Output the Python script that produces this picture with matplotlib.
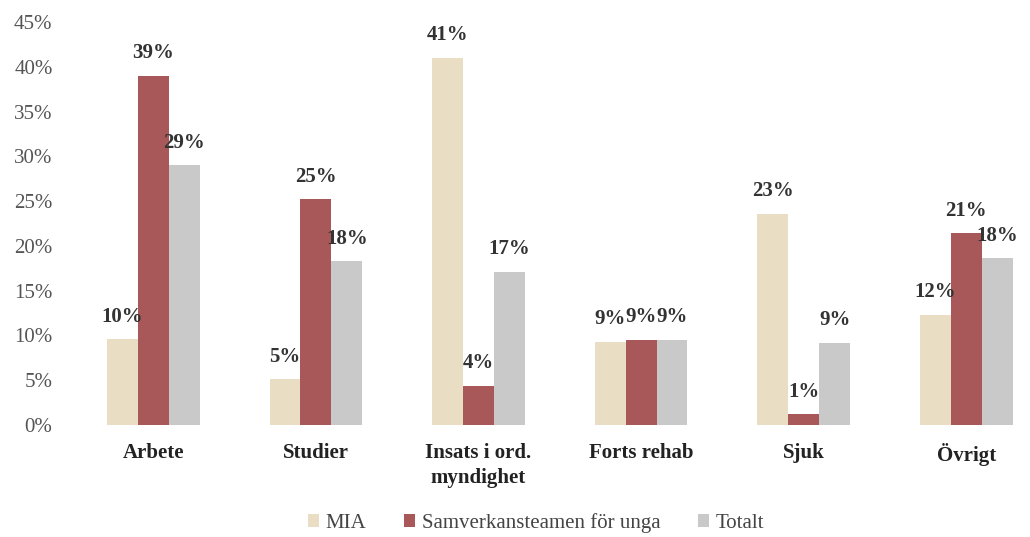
import matplotlib
matplotlib.use("Agg")
import matplotlib.pyplot as plt
import numpy as np

CATEGORIES = ["Arbete", "Studier", "Insats i ord.\nmyndighet", "Forts rehab", "Sjuk", "Övrigt"]
SERIES = ["MIA", "Samverkansteamen för unga", "Totalt"]
MIA = [9.6, 5.1, 41.0, 9.3, 23.6, 12.3]
SAMVERKAN = [39.0, 25.2, 4.4, 9.5, 1.2, 21.4]
TOTALT = [29.0, 18.3, 17.1, 9.5, 9.2, 18.6]
MIA_LABELS = ["10%", "5%", "41%", "9%", "23%", "12%"]
SAMVERKAN_LABELS = ["39%", "25%", "4%", "9%", "1%", "21%"]
TOTALT_LABELS = ["29%", "18%", "17%", "9%", "9%", "18%"]
COLORS = ["#E9DEC4", "#A85858", "#C9C9C9"]

plt.rcParams["font.family"] = ["Liberation Serif", "DejaVu Serif"]

fig = plt.figure(figsize=(10.30, 5.37), dpi=100)
ax = fig.add_axes([72 / 1030, 112 / 537, 958 / 1030, 403 / 537])

x = np.arange(len(CATEGORIES))
w = 0.19
handles = []
for k, (vals, labels) in enumerate([(MIA, MIA_LABELS), (SAMVERKAN, SAMVERKAN_LABELS),
                                     (TOTALT, TOTALT_LABELS)]):
    bars = ax.bar(x + (k - 1) * w, vals, w, color=COLORS[k], label=SERIES[k])
    handles.append(bars)
    for b, v, lab in zip(bars, vals, labels):
        ax.annotate(lab, (b.get_x() + b.get_width() / 2, v), xytext=(0, 9),
                    textcoords="offset points", ha="center", va="bottom",
                    fontsize=15, fontweight="bold", color="#333333")

ax.set_xlim(-0.5, -0.5 + 958 / 162.6)
ax.set_ylim(0, 45)
ax.set_yticks(range(0, 46, 5))
ax.set_yticklabels([f"{v}%" for v in range(0, 46, 5)], fontsize=15, color="#555555")
ax.set_xticks(x)
ax.set_xticklabels(CATEGORIES, fontsize=15, fontweight="bold", color="#222222", linespacing=1.35)
ax.tick_params(axis="both", length=0)
ax.tick_params(axis="y", pad=14)
ax.tick_params(axis="x", pad=13)
for s in ax.spines.values():
    s.set_visible(False)

fig.legend(handles=handles, labels=SERIES, loc="center", bbox_to_anchor=(536 / 1030, 1 - 523 / 537),
           ncol=3, frameon=False, fontsize=15, handlelength=0.55, handleheight=0.55,
           handletextpad=0.3, columnspacing=1.8, labelcolor="#444444")

fig.savefig("out.png", dpi=100)
